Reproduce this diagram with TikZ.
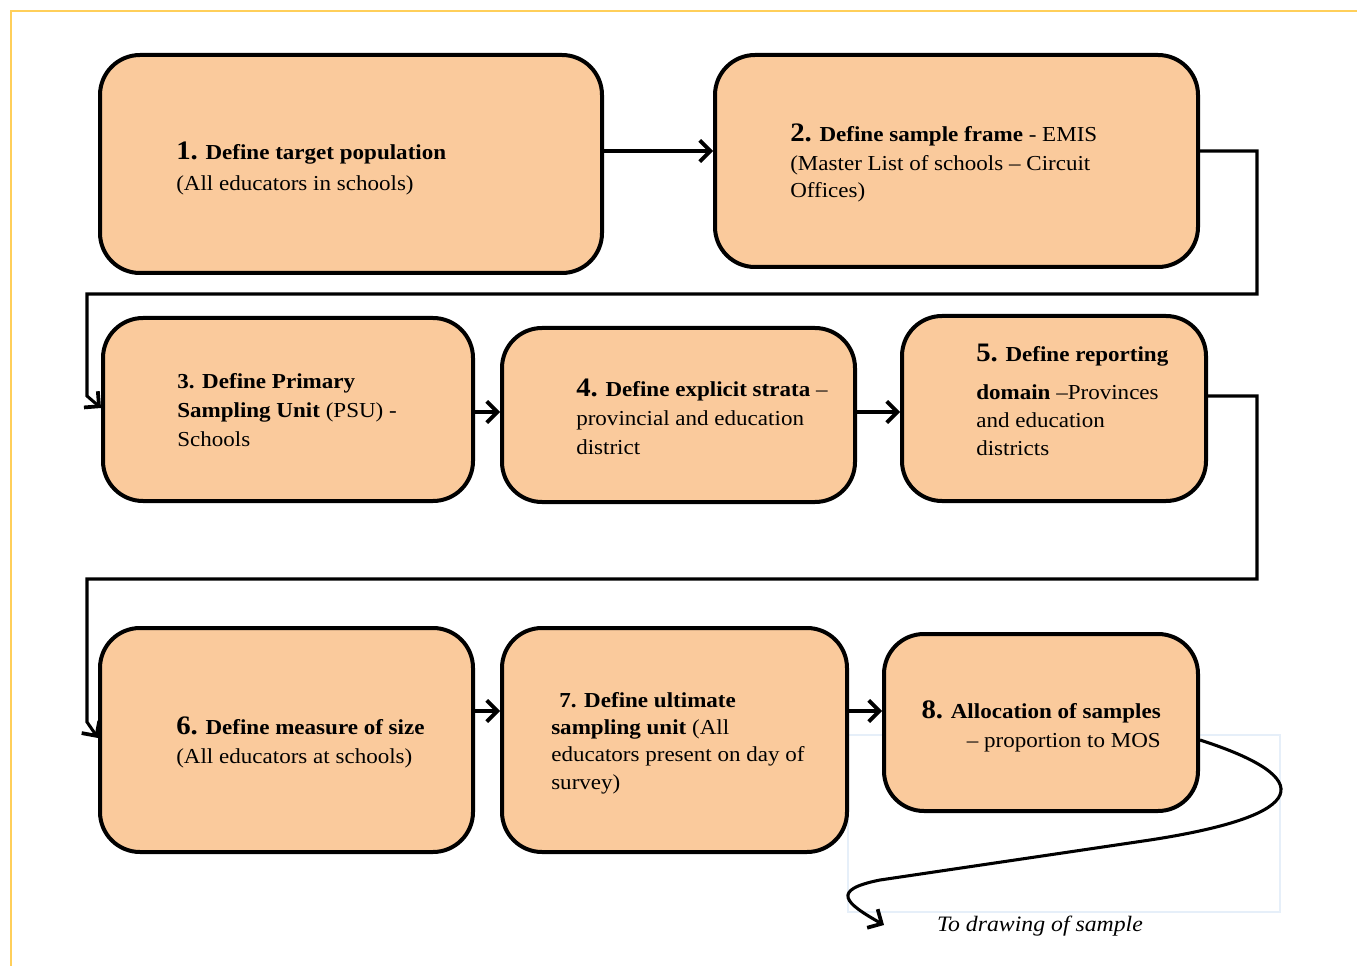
\documentclass[tikz,border=0pt]{standalone}
\usepackage{fontspec}
\setmainfont[FakeStretch=1.08]{Liberation Serif}
\usetikzlibrary{arrows.meta}
\definecolor{peach}{HTML}{FACA9C}
\definecolor{frameyellow}{HTML}{FFCF5A}
\definecolor{faintblue}{HTML}{E6EFF9}
\newcommand\bignum[1]{{\fontsize{20}{22}\selectfont\bfseries #1}}
\tikzset{
  box/.style={draw=black, line width=3pt, fill=peach, rounded corners=30pt, inner sep=0pt},
  txt/.style={inner sep=0pt, align=left, anchor=north west, font=\fontsize{16}{21.75}\selectfont},
  conn/.style={line width=2.3pt, -{Straight Barb[length=8pt,width=16pt,line width=2.8pt]}, line join=miter},
}
\begin{document}
\begin{tikzpicture}[x=0.75pt,y=-0.75pt]
\useasboundingbox (0,0) rectangle (1357,966);
% page frame
\draw[frameyellow, line width=1.3pt] (11,966) -- (11,11) -- (1357,11);
% faint text-box outline
\draw[faintblue, line width=0.8pt] (848,735) rectangle (1280,912);

% boxes
\node[box, minimum width=502*0.75pt, minimum height=218*0.75pt] (b1) at (351,164) {};
\node[box, minimum width=483*0.75pt, minimum height=212*0.75pt] (b2) at (956.5,161) {};
\node[box, minimum width=370*0.75pt, minimum height=183*0.75pt] (b3) at (288,409.5) {};
\node[box, minimum width=353*0.75pt, minimum height=174*0.75pt] (b4) at (678.5,415) {};
\node[box, minimum width=304*0.75pt, minimum height=185*0.75pt] (b5) at (1054,408.5) {};
\node[box, minimum width=373*0.75pt, minimum height=224*0.75pt] (b6) at (286.5,740) {};
\node[box, minimum width=345*0.75pt, minimum height=224*0.75pt] (b7) at (674.5,740) {};
\node[box, minimum width=314*0.75pt, minimum height=177*0.75pt] (b8) at (1041,722.5) {};

% texts
\node[txt] (t1) at (176,142) {\bignum{1.} \textbf{Define target population}\\[1pt](All educators in schools)};
\node[txt] (t2) at (790,124) {\bignum{2.} \textbf{Define sample frame} - EMIS\\(Master List of schools -- Circuit\\[-2pt]Offices)};
\node[txt] (t3) at (177,373) {\textbf{3. Define Primary}\\\textbf{Sampling Unit} (PSU) -\\Schools};
\node[txt] (t4) at (576,379) {\bignum{4.} \textbf{Define explicit strata} --\\provincial and education\\district};
\node[txt, font=\fontsize{16}{26}\selectfont] (t5) at (976,344) {\bignum{5.} \textbf{Define reporting}\\[2pt]\textbf{domain} --Provinces\\[-5pt]and education\\[-5pt]districts};
\node[txt] (t6) at (176,717) {\bignum{6.} \textbf{Define measure of size}\\(All educators at schools)};
\node[txt, font=\fontsize{16}{20.5}\selectfont] (t7) at (551,692) {\hspace*{6pt}\textbf{7. Define ultimate}\\\textbf{sampling unit} (All\\educators present on day of\\survey)};
\node[txt, align=right, anchor=north east] (t8) at (1161,700) {\bignum{8.} \textbf{Allocation of samples}\\-- proportion to MOS};
\node[inner sep=0pt, font=\fontsize{16.5}{18}\selectfont\itshape] (t9) at (1040,926) {To drawing of sample};

% connectors
\draw[conn] (b1.east |- 0,151) -- (b2.west |- 0,151);
\coordinate (c2a) at (1257,151);
\coordinate (c2b) at (1257,294);
\coordinate (c2c) at (87,294);
\coordinate (c2d) at (87,396);
\draw[conn] (b2.east |- c2a) -- (c2a) -- (c2b) -- (c2c) -- (c2d) -- (b3.west |- 0,408);
\draw[conn] (b3.east |- 0,412) -- (b4.west |- 0,412);
\draw[conn] (b4.east |- 0,412) -- (b5.west |- 0,412);
\coordinate (c5a) at (1257,396);
\coordinate (c5b) at (1257,579);
\coordinate (c5c) at (87,579);
\coordinate (c5d) at (87,722);
\draw[conn] (b5.east |- c5a) -- (c5a) -- (c5b) -- (c5c) -- (c5d) -- (b6.west |- 0,738);
\draw[conn] (b6.east |- 0,711) -- (b7.west |- 0,711);
\draw[conn] (b7.east |- 0,711) -- (b8.west |- 0,711);
\coordinate (c8a) at (1150,840);
\coordinate (c8b) at (880,880);
\coordinate (c8end) at (884,925);
\draw[conn] (b8.east |- 0,740) .. controls (1318,778) and (1312,815) .. (c8a) -- (c8b) .. controls (830,890) and (845,903) .. (c8end);
\end{tikzpicture}
\end{document}
